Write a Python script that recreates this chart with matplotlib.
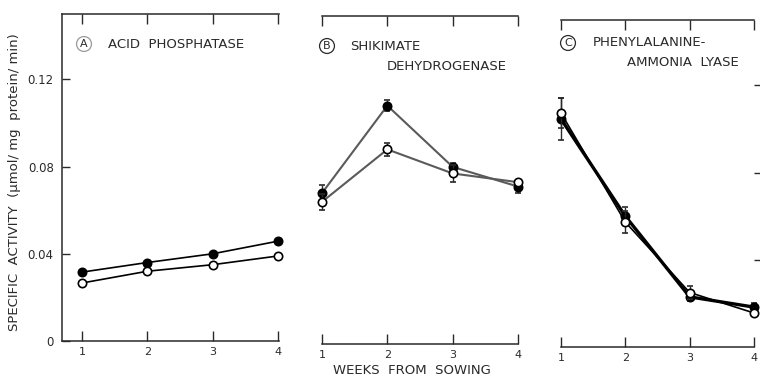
import matplotlib
matplotlib.use("Agg")
import matplotlib.pyplot as plt

plt.rcParams['font.family'] = ['DejaVu Sans']

# Weeks after sowing
weeks = [1, 2, 3, 4]

# Specific activity (umol / mg protein / min); filled and open symbols
acid_filled = [0.0316, 0.0360, 0.0400, 0.0458]
acid_open = [0.0266, 0.0320, 0.0350, 0.0390]

skdh_filled = [0.069, 0.109, 0.081, 0.072]
skdh_open = [0.065, 0.089, 0.078, 0.074]
skdh_filled_err = [0.0037, 0.0025, 0.002, 0.003]
skdh_open_err = [0.0037, 0.003, 0.004, 0.001]

pal_filled = [0.1046, 0.0600, 0.0230, 0.0183]
pal_open = [0.1073, 0.0573, 0.0250, 0.0156]
pal_filled_err = [0.0095, 0.004, 0.002, 0.002]
pal_open_err = [0.007, 0.005, 0.003, 0.001]

y_ticks = [0, 0.04, 0.08, 0.12]
y_tick_labels = ["0", "0.04", "0.08", "0.12"]
x_tick_labels = ["1", "2", "3", "4"]

W, H = 760, 378
INK = "#2a2a2a"

fig = plt.figure(figsize=(W / 100, H / 100), dpi=100)
fig.patch.set_facecolor("white")


def px_axes(left, top, right, bottom):
    return fig.add_axes([left / W, 1 - bottom / H, (right - left) / W, (bottom - top) / H])


def style_x(ax):
    ax.set_xticks(weeks)
    ax.set_xticklabels(x_tick_labels, fontsize=8, color=INK)
    ax.tick_params(axis="x", which="both", top=True, bottom=True, direction="in",
                   length=7, width=1.0, color=INK, pad=4, labeltop=False)
    for s in ("top", "bottom"):
        ax.spines[s].set_color(INK)
        ax.spines[s].set_linewidth(1.1)
    ax.set_ylim(0, 0.15)
    ax.set_facecolor("none")


def series(ax, y, err, filled, color, lw):
    fc = "black" if filled else "white"
    cont = ax.errorbar(weeks, y, yerr=err, fmt="-o", color=color, lw=lw,
                       ms=6, mfc=fc, mec="black", mew=1.2,
                       ecolor=INK, elinewidth=1.0, capsize=2, capthick=1.0,
                       zorder=4 if filled else 5)
    for child in cont.get_children():
        child.set_clip_on(False)


# Panel A: acid phosphatase
axA = px_axes(62, 14, 279, 341)
style_x(axA)
axA.set_xlim(1 - 20 / 65.33, 4 + 1 / 65.33)
axA.spines["right"].set_visible(False)
axA.spines["left"].set_color(INK)
axA.spines["left"].set_linewidth(1.1)
axA.set_yticks(y_ticks)
axA.set_yticklabels(y_tick_labels, fontsize=8.5, color=INK)
axA.tick_params(axis="y", direction="in", length=6, width=1.0, color=INK, pad=6)
series(axA, acid_filled, None, True, "black", 1.2)
series(axA, acid_open, None, False, "black", 1.2)

# Panel B: shikimate dehydrogenase
axB = px_axes(322, 16, 518, 344)
style_x(axB)
axB.set_xlim(1, 4)
axB.spines["left"].set_visible(False)
axB.spines["right"].set_visible(False)
axB.tick_params(axis="y", left=False, labelleft=False)
series(axB, skdh_filled, skdh_filled_err, True, "#5a5a5a", 1.5)
series(axB, skdh_open, skdh_open_err, False, "#5a5a5a", 1.5)

# Panel C: phenylalanine-ammonia lyase
axC = px_axes(561, 20, 754, 347)
style_x(axC)
axC.set_xlim(1, 4)
axC.spines["left"].set_visible(False)
axC.spines["right"].set_visible(False)
axC.yaxis.tick_right()
axC.set_yticks(y_ticks[1:])
axC.tick_params(axis="y", direction="out", length=5, width=1.0, color=INK,
                labelright=False, left=False)
series(axC, pal_filled, pal_filled_err, True, "black", 2.4)
series(axC, pal_open, pal_open_err, False, "black", 1.2)


def ftext(x, y, s, **kw):
    fig.text(x / W, 1 - y / H, s, color=INK, **kw)


circ = dict(boxstyle="circle,pad=0.22", fc="none", lw=0.9)
ftext(84, 44, "A", fontsize=8, ha="center", va="center", bbox=dict(circ, ec="#9a9a9a"))
ftext(108, 44, "ACID  PHOSPHATASE", fontsize=9.5, ha="left", va="center")

ftext(327, 46, "B", fontsize=8, ha="center", va="center", bbox=dict(circ, ec=INK))
ftext(350, 46, "SHIKIMATE", fontsize=9.5, ha="left", va="center")
ftext(387, 66, "DEHYDROGENASE", fontsize=9.5, ha="left", va="center")

ftext(568, 43, "C", fontsize=8, ha="center", va="center", bbox=dict(circ, ec=INK))
ftext(593, 43, "PHENYLALANINE-", fontsize=9.5, ha="left", va="center")
ftext(627, 62, "AMMONIA  LYASE", fontsize=9.5, ha="left", va="center")

ftext(412, 371, "WEEKS  FROM  SOWING", fontsize=9.5, ha="center", va="center")
ftext(15, 182, "SPECIFIC  ACTIVITY  (\u03bcmol/ mg  protein/ min)", fontsize=9.5,
      ha="center", va="center", rotation=90)

fig.savefig("out.png", dpi=100, facecolor="white")
